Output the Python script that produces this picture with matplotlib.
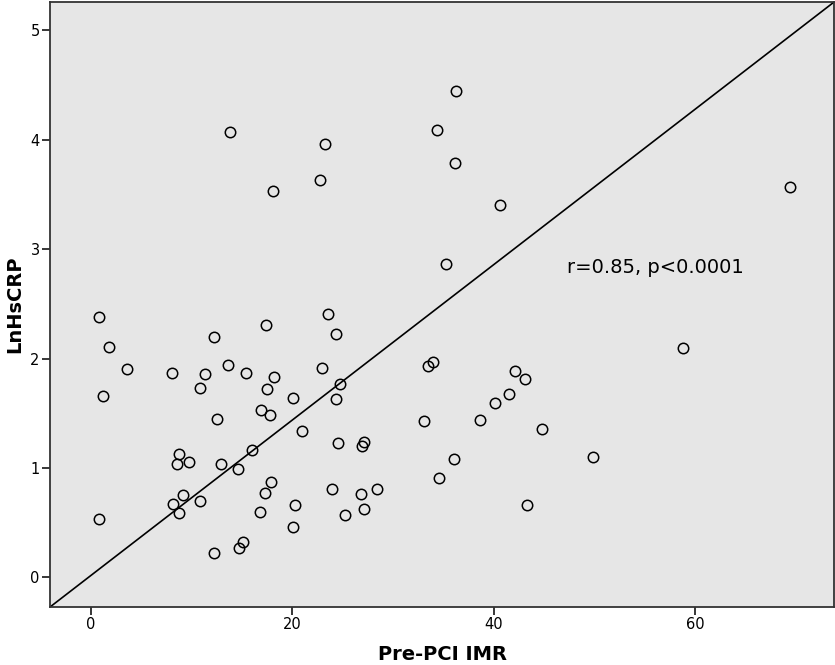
import numpy as np
import matplotlib
matplotlib.use("Agg")
import matplotlib.pyplot as plt

# Pre-PCI IMR vs LnHsCRP
imr = [0.87, 1.84, 3.59, 1.21, 0.87,
       8.09, 10.87, 11.4, 12.3, 12.6, 13.6, 15.4,
       17.4, 17.5, 18.2, 16.9, 17.8, 20.1, 16.0,
       8.76, 8.62, 9.75, 12.96, 14.6, 17.96, 17.3, 16.8,
       9.19, 8.23, 8.79, 10.9, 12.3, 14.7, 15.1,
       20.3, 20.1, 21.0,
       13.8, 18.1, 23.3, 22.8, 36.3, 34.4, 36.2, 40.6, 35.3, 23.6,
       24.4, 22.96, 24.8, 24.4, 24.6, 27.1, 26.9,
       33.05, 33.5, 34.0, 36.1, 34.6, 38.7, 40.1, 41.5, 42.1, 43.1, 44.8, 43.3,
       23.95, 26.8, 28.4, 27.1, 25.3,
       69.4, 58.8, 49.9]
lnhscrp = [2.38, 2.11, 1.90, 1.66, 0.53,
           1.87, 1.73, 1.86, 2.20, 1.445, 1.94, 1.87,
           2.31, 1.725, 1.83, 1.53, 1.48, 1.64, 1.16,
           1.125, 1.04, 1.055, 1.04, 0.99, 0.87, 0.775, 0.595,
           0.75, 0.67, 0.585, 0.70, 0.225, 0.27, 0.32,
           0.66, 0.46, 1.34,
           4.07, 3.53, 3.96, 3.63, 4.45, 4.09, 3.79, 3.40, 2.86, 2.41,
           2.22, 1.915, 1.765, 1.63, 1.23, 1.24, 1.20,
           1.43, 1.93, 1.97, 1.085, 0.905, 1.44, 1.59, 1.68, 1.89, 1.81, 1.36, 0.66,
           0.81, 0.76, 0.805, 0.62, 0.57,
           3.565, 2.095, 1.10]

# reference line (corner to corner)
line_x = [-4.02, 73.8]
line_y = [-0.272, 5.26]

xticks = [0, 20, 40, 60]
yticks = [0, 1, 2, 3, 4, 5]

fig = plt.figure(figsize=(8.35, 6.65), dpi=100)
ax = fig.add_axes([0.0599, 0.0872, 0.939, 0.9098])
ax.set_facecolor('#e6e6e6')

ax.plot(line_x, line_y, color='black', linewidth=1.2)
ax.plot(imr, lnhscrp, linestyle='none', marker='o', markersize=7.5,
        markerfacecolor='none', markeredgecolor='black', markeredgewidth=1.1)

ax.text(47.3, 2.83, 'r=0.85, p<0.0001', fontsize=14, va='center', ha='left')

ax.set_xlim(line_x)
ax.set_ylim(line_y)
ax.set_xticks(xticks)
ax.set_yticks(yticks)
ax.tick_params(direction='out', length=6, width=1.1, labelsize=10.5, pad=1.5)

for s in ax.spines.values():
    s.set_linewidth(1.3)
    s.set_color('#333333')

ax.set_xlabel('Pre-PCI IMR', fontsize=14, fontweight='bold', labelpad=9)
ax.set_ylabel('LnHsCRP', fontsize=14, fontweight='bold', labelpad=4)

fig.savefig('out.png', dpi=100)
